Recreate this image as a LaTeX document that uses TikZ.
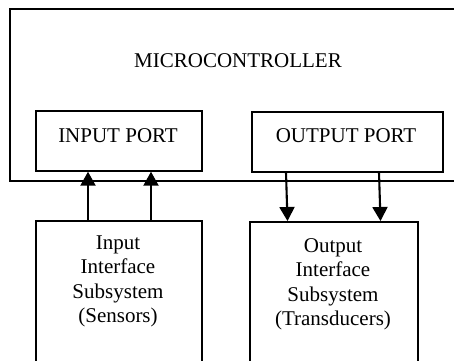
\documentclass[tikz,border=0pt]{standalone}
\usepackage{fontspec}
\setmainfont{Liberation Serif}
\usetikzlibrary{arrows.meta}
\begin{document}
\begin{tikzpicture}[x=1pt,y=-1pt,
  box/.style={draw,line width=1.7pt,inner sep=0pt,anchor=north west},
  lbl/.style={inner sep=0pt,anchor=base,font=\fontsize{21}{24.5}\selectfont},
  arr/.style={line width=2.1pt,-{Triangle[length=14pt,width=15pt]}}]
\useasboundingbox (0,0) rectangle (454,360);
\clip (0,0) rectangle (454,360);
\node[box,minimum width=480pt,minimum height=172pt] (mc) at (9,8) {};
\node[lbl] (mct) at (238,67) {MICROCONTROLLER};
\node[box,minimum width=166pt,minimum height=60pt] (inport) at (35,110) {};
\node[lbl] (inportt) at (118,142) {INPUT PORT};
\node[box,minimum width=191pt,minimum height=60pt] (outport) at (251,111) {};
\node[lbl] (outportt) at (346,142) {OUTPUT PORT};
\node[box,minimum width=166pt,minimum height=170pt] (inbox) at (35,220) {};
\node[box,minimum width=168pt,minimum height=170pt] (outbox) at (249,221) {};
\node[lbl] (i1) at (118,249) {Input};
\node[lbl] (i2) at (118,273.5) {Interface};
\node[lbl] (i3) at (118,298) {Subsystem};
\node[lbl] (i4) at (118,322.5) {(Sensors)};
\node[lbl] (o1) at (333,252) {Output};
\node[lbl] (o2) at (333,276.5) {Interface};
\node[lbl] (o3) at (333,301) {Subsystem};
\node[lbl] (o4) at (333,325.5) {(Transducers)};
\coordinate (a1) at (88,0);
\coordinate (a2) at (151,0);
\coordinate (b1t) at (286,0);
\coordinate (b1b) at (287.5,0);
\coordinate (b2t) at (379,0);
\coordinate (b2b) at (380.5,0);
\draw[arr] (a1 |- inbox.north) -- (a1 |- inport.south);
\draw[arr] (a2 |- inbox.north) -- (a2 |- inport.south);
\draw[arr] (b1t |- outport.south) -- (b1b |- outbox.north);
\draw[arr] (b2t |- outport.south) -- (b2b |- outbox.north);
\end{tikzpicture}
\end{document}
